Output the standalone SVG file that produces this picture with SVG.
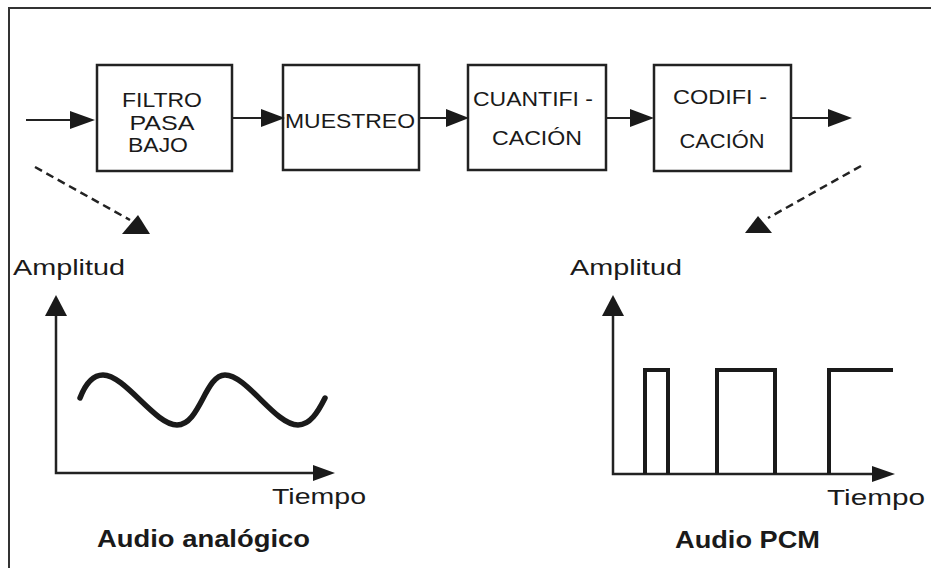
<svg xmlns="http://www.w3.org/2000/svg" width="931" height="568" viewBox="0 0 931 568">
  <defs>
    <style>
      .frame { fill: none; stroke: #333; stroke-width: 2; }
      .box { fill: #fff; stroke: #222; stroke-width: 2.5; }
      .lbl { font-family: "Liberation Sans", Arial, sans-serif; font-size: 21px; fill: #1a1a1a; text-anchor: middle; }
      .axis-lbl { font-family: "Liberation Sans", Arial, sans-serif; font-size: 22px; fill: #1a1a1a; }
      .title { font-family: "Liberation Sans", Arial, sans-serif; font-size: 24px; font-weight: bold; fill: #1a1a1a; }
      .flow { stroke: #222; stroke-width: 2; fill: none; }
      .dash { stroke: #222; stroke-width: 2.5; fill: none; stroke-dasharray: 8 5; }
      .axis { stroke: #222; stroke-width: 2.5; fill: none; }
      .tri { fill: #1a1a1a; }
      .sig { stroke: #1a1a1a; stroke-width: 5.5; fill: none; stroke-linecap: round; stroke-linejoin: round; }
      .pulse { stroke: #1a1a1a; stroke-width: 4; fill: none; }
    </style>
  </defs>

  <!-- outer frame (right and bottom edges run past the canvas) -->
  <rect class="frame" x="9" y="8" width="930" height="570"/>

  <!-- processing chain -->
  <g id="filtro">
    <rect class="box" x="97" y="65" width="135" height="106"/>
    <text class="lbl" x="162" y="107" textLength="80" lengthAdjust="spacingAndGlyphs">FILTRO</text>
    <text class="lbl" x="162" y="130" textLength="65" lengthAdjust="spacingAndGlyphs">PASA</text>
    <text class="lbl" x="158" y="152" textLength="60" lengthAdjust="spacingAndGlyphs">BAJO</text>
  </g>
  <g id="muestreo">
    <rect class="box" x="283" y="65" width="136" height="105"/>
    <text class="lbl" x="350" y="128" textLength="130" lengthAdjust="spacingAndGlyphs">MUESTREO</text>
  </g>
  <g id="cuantificacion">
    <rect class="box" x="468" y="65" width="138" height="105"/>
    <text class="lbl" x="533" y="106" textLength="120" lengthAdjust="spacingAndGlyphs">CUANTIFI -</text>
    <text class="lbl" x="537" y="145" textLength="90" lengthAdjust="spacingAndGlyphs">CACIÓN</text>
  </g>
  <g id="codificacion">
    <rect class="box" x="654" y="65" width="137" height="106"/>
    <text class="lbl" x="720" y="104" textLength="94" lengthAdjust="spacingAndGlyphs">CODIFI -</text>
    <text class="lbl" x="722" y="148" textLength="85" lengthAdjust="spacingAndGlyphs">CACIÓN</text>
  </g>

  <g id="connectors">
    <line class="flow" x1="26" y1="120" x2="74" y2="120"/>
    <polygon class="tri" points="70,111 95,120 70,129"/>
    <line class="flow" x1="232" y1="118" x2="266" y2="118"/>
    <polygon class="tri" points="261,109 285,118 261,127"/>
    <line class="flow" x1="419" y1="118" x2="450" y2="118"/>
    <polygon class="tri" points="446,109 469,118 446,127"/>
    <line class="flow" x1="606" y1="118" x2="634" y2="118"/>
    <polygon class="tri" points="630,109 654,118 630,127"/>
    <line class="flow" x1="791" y1="118" x2="832" y2="118"/>
    <polygon class="tri" points="828,109 852,118 828,127"/>
    <!-- dashed leads down to the two plots -->
    <line class="dash" x1="35" y1="167" x2="130" y2="220"/>
    <polygon class="tri" points="122,234 150,234 138,215"/>
    <line class="dash" x1="861" y1="166" x2="768" y2="218"/>
    <polygon class="tri" points="745,233 772,233 758,216"/>
  </g>

  <!-- analog plot -->
  <g id="analog-plot">
    <text class="axis-lbl" x="13" y="275" textLength="112" lengthAdjust="spacingAndGlyphs">Amplitud</text>
    <polyline class="axis" points="56,313 56,473 316,473"/>
    <polygon class="tri" points="45,316 67,316 56,295"/>
    <polygon class="tri" points="313,465 313,481 335,473"/>
    <path class="sig" d="M80,398 C85,385 93,375 103,375 C125,375 155,425 177,425 C200,425 205,375 225,375 C247,375 275,425 298,425 C310,425 318,412 325,398"/>
    <text class="axis-lbl" x="272" y="504" textLength="94" lengthAdjust="spacingAndGlyphs">Tiempo</text>
    <text class="title" x="97" y="547" textLength="213" lengthAdjust="spacingAndGlyphs">Audio analógico</text>
  </g>

  <!-- PCM plot -->
  <g id="pcm-plot">
    <text class="axis-lbl" x="570" y="275" textLength="112" lengthAdjust="spacingAndGlyphs">Amplitud</text>
    <polyline class="axis" points="613,313 613,474 874,474"/>
    <polygon class="tri" points="602,316 624,316 613,295"/>
    <polygon class="tri" points="872,466 872,482 895,474"/>
    <path class="pulse" d="M645,474 V370 H668 V474 M717,474 V370 H775 V474 M829,474 V370 H893"/>
    <text class="axis-lbl" x="827" y="505" textLength="98" lengthAdjust="spacingAndGlyphs">Tiempo</text>
    <text class="title" x="675" y="548" textLength="145" lengthAdjust="spacingAndGlyphs">Audio PCM</text>
  </g>
</svg>
